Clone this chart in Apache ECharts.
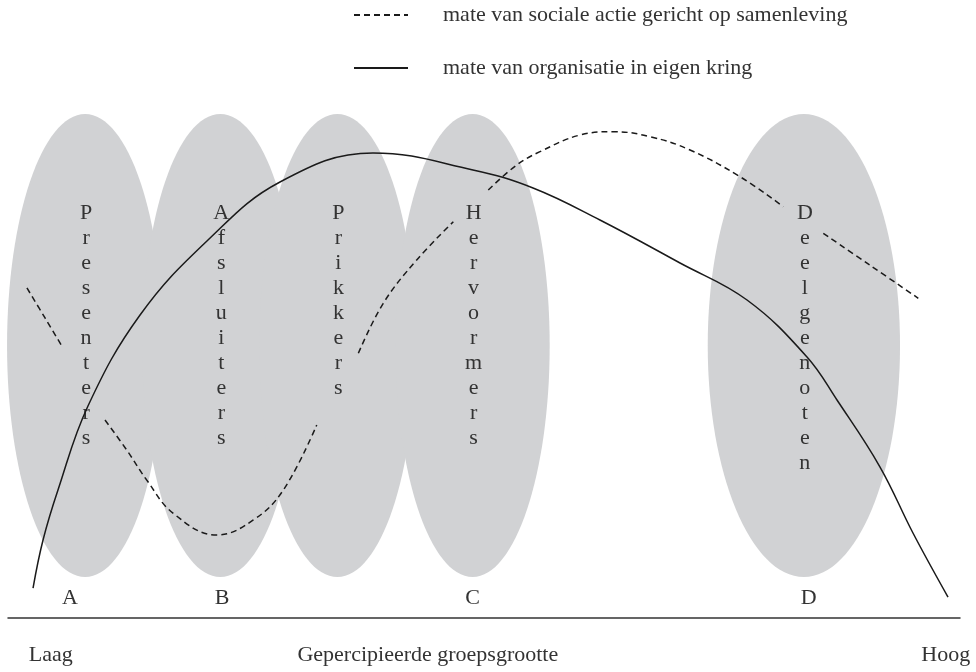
<!DOCTYPE html>
<html><head><meta charset="utf-8">
<script src="https://cdn.jsdelivr.net/npm/echarts@6/dist/echarts.min.js"></script>
<style>html,body{margin:0;padding:0;background:#fff}#chart{width:976px;height:672px}</style>
</head><body><div id="chart"></div>
<script>
// Groups (ellipses): centre and half extents in data units
const groupNames = ['Presenters', 'Afsluiters', 'Prikkers', 'Hervormers', 'Deelgenoten'];
const groupCenterX = [8.1, 22.3, 34.6, 48.8, 83.6];
const groupCenterY = [52.6, 52.6, 52.6, 52.6, 52.6];
const groupHalfWidth = [8.2, 8.2, 8.2, 8.1, 10.1];
const groupHalfHeight = [44.7, 44.7, 44.7, 44.7, 44.7];

// Category letters on the axis
const letterLabels = ['A', 'B', 'C', 'D'];
const letterValues = [6.5, 22.5, 48.8, 84.1];

// Axis tick labels
const xTickLabels = ['Laag', 'Gepercipieerde groepsgrootte', 'Hoog'];
const xTickValues = [4.5, 44.1, 98.5];

// Solid curve: mate van organisatie in eigen kring
const organisatie = [
  [2.63, 5.79], [3.68, 15.06], [5.25, 24.71], [8.40, 40.93], [13.87, 58.49],
  [20.90, 72.78], [28.57, 84.17], [38.34, 89.77], [48.84, 86.49], [55.15, 83.01],
  [62.18, 76.83], [70.59, 68.53], [77.63, 61.39], [83.93, 50.39], [87.08, 42.08],
  [91.60, 29.15], [95.06, 16.41], [98.74, 4.05]
];

// Dashed curve: mate van sociale actie gericht op samenleving (interrupted segments)
const socialeSeg1 = [[1.99, 63.71], [3.89, 57.92], [5.78, 52.12]];
const socialeSeg2 = [[10.19, 38.22], [12.47, 32.43], [14.57, 26.64], [17.36, 20.21], [21.92, 16.02], [25.77, 18.92], [28.92, 24.71], [32.43, 37.26]];
const socialeSeg3 = [[36.80, 51.10], [39.42, 60.75], [42.93, 69.11], [46.78, 76.51]];
const socialeSeg4 = [[50.45, 82.63], [53.43, 87.45], [55.88, 90.02], [60.08, 93.24], [63.58, 93.88], [67.44, 92.92], [71.64, 90.35], [76.89, 85.19], [81.44, 79.40]];
const socialeSeg5 = [[85.64, 74.27], [90.55, 68.1], [95.62, 61.72]];

const nameSociale = 'mate van sociale actie gericht op samenleving';
const nameOrganisatie = 'mate van organisatie in eigen kring';

const FONT = "'Liberation Serif', 'Times New Roman', serif";
const TEXT_COLOR = '#333';
const LINE_COLOR = '#1a1a1a';

const sep = ['-', '-'];
const socialeData = [].concat(socialeSeg1, [sep], socialeSeg2, [sep], socialeSeg3, [sep], socialeSeg4, [sep], socialeSeg5);

const groupData = groupNames.map((n, i) => ({
  name: n,
  value: [groupCenterX[i], groupCenterY[i], groupHalfWidth[i], groupHalfHeight[i]]
}));

function lookup(values, labels) {
  return function (v) {
    for (let i = 0; i < values.length; i++) {
      if (Math.abs(values[i] - v) < 1e-6) return labels[i];
    }
    return '';
  };
}

const chart = echarts.init(document.getElementById('chart'));
chart.setOption({
  animation: false,
  backgroundColor: '#fff',
  grid: { left: 8, right: 16, top: 100, bottom: 54, containLabel: false },
  legend: {
    orient: 'vertical', left: 353, top: 3, padding: 0,
    itemWidth: 54, itemHeight: 14, itemGap: 29,
    selectedMode: false,
    data: [nameSociale, nameOrganisatie],
    itemStyle: { color: 'rgba(0,0,0,0)', borderWidth: 0, borderColor: 'rgba(0,0,0,0)' },
    textStyle: { fontFamily: FONT, fontSize: 22, color: TEXT_COLOR, lineHeight: 24, padding: [0, 0, 0, 30] }
  },
  xAxis: [{
    type: 'value', min: 0, max: 100,
    axisLine: { show: true, lineStyle: { color: '#333', width: 1.5 } },
    axisTick: { show: false },
    splitLine: { show: false },
    axisLabel: {
      customValues: xTickValues,
      formatter: lookup(xTickValues, xTickLabels),
      fontFamily: FONT, fontSize: 22, color: TEXT_COLOR, margin: 26
    }
  }, {
    type: 'value', min: 0, max: 100, position: 'bottom',
    axisLine: { show: false }, axisTick: { show: false }, splitLine: { show: false },
    axisLabel: {
      inside: true,
      customValues: letterValues,
      formatter: lookup(letterValues, letterLabels),
      fontFamily: FONT, fontSize: 22, color: TEXT_COLOR, margin: 9
    }
  }],
  yAxis: { type: 'value', min: 0, max: 100, show: false },
  series: [{
    type: 'custom',
    name: 'groepen',
    z: 1,
    silent: true,
    data: groupData,
    renderItem: (params, api) => {
      const c = api.coord([api.value(0), api.value(1)]);
      const s = api.size([api.value(2), api.value(3)]);
      const nm = groupNames[params.dataIndex];
      const top = api.coord([api.value(0), api.value(1) + 0.624 * api.value(3)]);
      return {
        type: 'group',
        children: [{
          type: 'ellipse',
          shape: { cx: c[0], cy: c[1], rx: s[0], ry: s[1] },
          style: { fill: '#d1d2d4' }
        }, {
          type: 'text',
          z2: 10,
          style: {
            text: nm.split('').join('\n'),
            x: c[0] + 1, y: top[1],
            align: 'center', verticalAlign: 'top',
            fontFamily: FONT, fontSize: 22, lineHeight: 25,
            fill: TEXT_COLOR
          }
        }]
      };
    }
  }, {
    type: 'line',
    name: nameSociale,
    z: 3,
    data: socialeData,
    smooth: 0.4,
    symbol: 'none',
    connectNulls: false,
    lineStyle: { color: LINE_COLOR, width: 1.5, type: [6, 4] },
    itemStyle: { color: LINE_COLOR }
  }, {
    type: 'line',
    name: nameOrganisatie,
    z: 3,
    data: organisatie,
    smooth: 0.4,
    symbol: 'none',
    lineStyle: { color: LINE_COLOR, width: 1.5 },
    itemStyle: { color: LINE_COLOR }
  }]
});
</script>
</body></html>
